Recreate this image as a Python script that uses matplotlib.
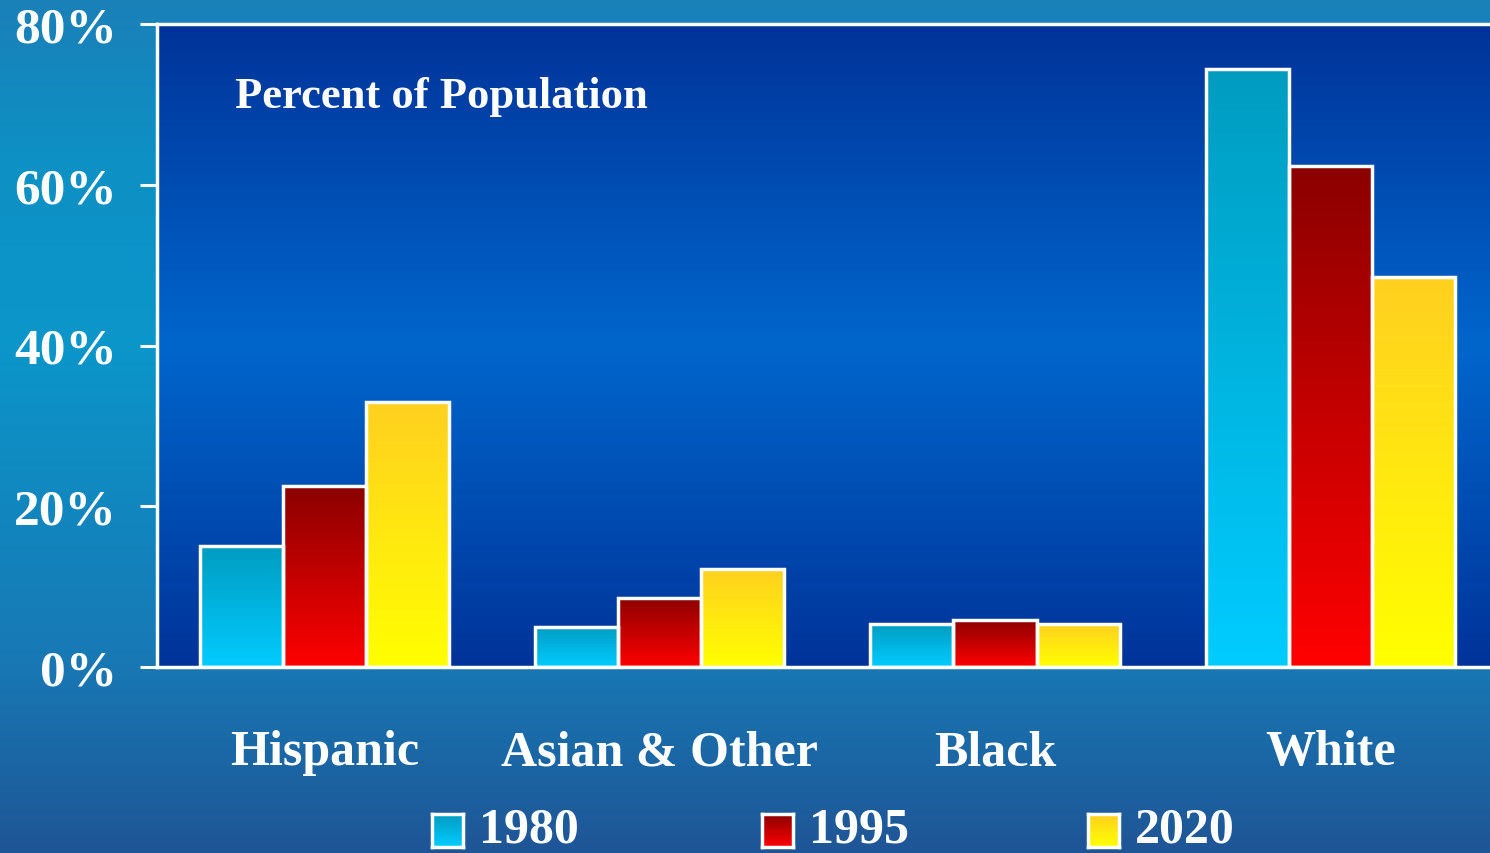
import numpy as np
import matplotlib
matplotlib.use("Agg")
import matplotlib.pyplot as plt
from matplotlib.colors import LinearSegmentedColormap

categories = ["Hispanic", "Asian & Other", "Black", "White"]
years = ["1980", "1995", "2020"]
v1980 = [15.0, 5.0, 5.4, 74.4]
v1995 = [22.5, 8.6, 5.9, 62.3]
v2020 = [33.0, 12.2, 5.4, 48.5]
series = [v1980, v1995, v2020]
yticks = [0, 20, 40, 60, 80]
yticklabels = ["0%", "20%", "40%", "60%", "80%"]
title_text = "Percent of Population"

grad_colors = [("#00CCFF", "#009CC0"), ("#FF0000", "#8B0000"), ("#FFFF00", "#FFD020")]

plt.rcParams['font.family'] = ['Liberation Serif', 'DejaVu Serif']
plt.rcParams['font.weight'] = 'bold'

W, H = 1490, 854
fig = plt.figure(figsize=(W / 100, H / 100), dpi=100)

# figure background gradient
bg = fig.add_axes([0, 0, 1, 1], zorder=-10)
bg_cmap = LinearSegmentedColormap.from_list(
    "bg", [(0.0, "#1f5596"), (0.22, "#1878b4"), (0.6, "#0b96ca"), (0.82, "#0e90c4"), (1.0, "#1a80b8")])
bg.imshow(np.linspace(0, 1, 256).reshape(-1, 1), cmap=bg_cmap, aspect='auto',
          origin='lower', extent=[0, 1, 0, 1])
bg.set_axis_off()

ax = fig.add_axes([157 / W, 1 - 668 / H, 1 - 157 / W, (668 - 25) / H])
ax.patch.set_alpha(0)
pa_cmap = LinearSegmentedColormap.from_list(
    "pa", [(0.0, "#003399"), (0.5, "#0066CC"), (1.0, "#003399")])
ax.imshow(np.linspace(0, 1, 256).reshape(-1, 1), cmap=pa_cmap, aspect='auto',
          origin='lower', extent=[0, 1, 0, 1], transform=ax.transAxes, zorder=0)

x = np.arange(len(categories))
bw = 0.248
for i, (vals, (c0, c1)) in enumerate(zip(series, grad_colors)):
    cmap = LinearSegmentedColormap.from_list(f"s{i}", [c0, c1])
    bars = ax.bar(x + (i - 1) * bw, vals, bw, facecolor='none', edgecolor='white',
                  linewidth=2.5, zorder=3)
    for b in bars:
        x0, w, h = b.get_x(), b.get_width(), b.get_height()
        ax.imshow(np.linspace(0, 1, 256).reshape(-1, 1), cmap=cmap, aspect='auto',
                  origin='lower', extent=[x0, x0 + w, 0, h], zorder=2)

ax.set_xlim(-0.499, 3.476)
ax.set_ylim(0, 80)
ax.set_yticks(yticks)
ax.set_yticklabels(yticklabels)
ax.set_xticks(x)
ax.set_xticklabels(categories)
ax.tick_params(axis='y', colors='white', length=12, width=2.2, pad=17, labelsize=37)
ax.tick_params(axis='x', colors='white', length=0, pad=45, labelsize=36)
for lab in ax.get_xticklabels() + ax.get_yticklabels():
    lab.set_fontweight('bold')
    lab.set_color('white')
for s in ['left', 'bottom', 'top']:
    ax.spines[s].set_color('white')
    ax.spines[s].set_linewidth(2.5)
ax.spines['right'].set_visible(False)

ax.text(0.0585, 0.888, title_text, transform=ax.transAxes, color='white',
        fontsize=32, fontweight='bold', va='center', ha='left', zorder=5)

# legend (manual)
leg_x = [432, 762, 1088]
for i, (yr, (c0, c1)) in enumerate(zip(years, grad_colors)):
    cmap = LinearSegmentedColormap.from_list(f"l{i}", [c0, c1])
    lax = fig.add_axes([leg_x[i] / W, 1 - 848 / H, 31 / W, 33 / H])
    lax.imshow(np.linspace(0, 1, 64).reshape(-1, 1), cmap=cmap, aspect='auto',
               origin='lower', extent=[0, 1, 0, 1])
    lax.set_xticks([])
    lax.set_yticks([])
    for s in lax.spines.values():
        s.set_color('white')
        s.set_linewidth(2.5)
    fig.text((leg_x[i] + 47) / W, 1 - 831 / H, yr, color='white', fontsize=36,
             fontweight='bold', va='center', ha='left')

fig.savefig("out.png", dpi=100)
